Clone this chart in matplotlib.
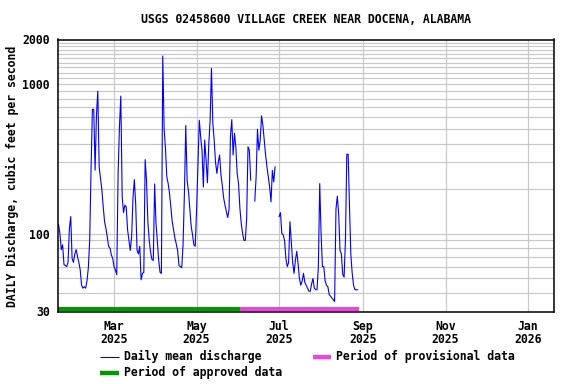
import numpy as np
import pandas as pd
import matplotlib
matplotlib.use("Agg")
import matplotlib.pyplot as plt
from matplotlib.lines import Line2D
from matplotlib.transforms import blended_transform_factory

nan = np.nan

title = "USGS 02458600 VILLAGE CREEK NEAR DOCENA, ALABAMA"
ylabel = "DAILY Discharge, cubic feet per second"

start_date = "2025-01-19"
discharge = [
    115, 100, 78, 84, 62, 61, 60, 64, 108, 130,
    68, 64, 73, 78, 70, 64, 57, 45, 43, 44,
    43, 48, 59, 90, 266, 680, 680, 266, 620, 900,
    280, 234, 196, 151, 120, 108, 95, 82, 80, 72,
    68, 60, 57, 53, 253, 520, 835, 178, 138, 155,
    151, 106, 90, 77, 95, 173, 230, 158, 77, 73,
    82, 49, 54, 55, 313, 227, 120, 90, 75, 67,
    66, 215, 117, 89, 66, 55, 54, 1550, 500, 373,
    240, 216, 186, 148, 120, 106, 93, 85, 77, 61,
    60, 59, 84, 185, 530, 228, 192, 145, 112, 98,
    84, 82, 145, 293, 575, 445, 362, 205, 424, 313,
    219, 396, 575, 1280, 548, 424, 300, 253, 300, 336,
    247, 210, 173, 155, 141, 128, 145, 445, 580, 336,
    470, 380, 253, 216, 148, 117, 100, 90, 90, 126,
    382, 362, 228, nan, nan, 165, 240, 500, 362, 424,
    615, 530, 424, 336, 280, 238, 205, 163, 265, 222,
    280, nan, nan, 130, 138, 100, 98, 90, 68, 60,
    64, 120, 88, 64, 54, 66, 76, 63, 50, 45,
    48, 54, 47, 45, 43, 41, 41, 46, 50, 43,
    42, 42, 60, 216, 100, 60, 60, 48, 45, 44,
    39, 38, 37, 36, 35, 146, 178, 135, 77, 73,
    53, 51, 90, 340, 340, 151, 72, 54, 45, 42,
    42, 42,
]

approved_period = ["2025-01-18 14:00", "2025-06-02"]
provisional_period = ["2025-06-02", "2025-08-28 16:00"]

x_limits = ["2025-01-18 14:00", "2026-01-20 03:00"]
x_tick_dates = ["2025-03-01", "2025-05-01", "2025-07-01", "2025-09-01", "2025-11-01", "2026-01-01"]
x_tick_labels = ["Mar\n2025", "May\n2025", "Jul\n2025", "Sep\n2025", "Nov\n2025", "Jan\n2026"]
y_ticks = [30, 100, 1000, 2000]
y_tick_labels = ["30", "100", "1000", "2000"]
y_grid = [40, 50, 60, 70, 80, 90, 100, 200, 300, 400, 500, 600, 700, 800, 900,
          1000, 1100, 1200, 1300, 1400, 1500, 1600, 1700, 1800, 1900]

legend_labels = ["Daily mean discharge", "Period of provisional data", "Period of approved data"]

FONT = "DejaVu Sans Mono"
FS = 8.3

dates = pd.date_range(start_date, periods=len(discharge), freq="D")

fig = plt.figure(figsize=(5.76, 3.84), dpi=100)
ax = fig.add_axes([58 / 576, 1 - 311.5 / 384, (554 - 58) / 576, (311.5 - 39.5) / 384])

ax.set_yscale("log")
ax.set_ylim(30, 2000)
ax.set_xlim(pd.Timestamp(x_limits[0]), pd.Timestamp(x_limits[1]))

for g in y_grid:
    ax.axhline(g, color="#c8c8c8", lw=0.85, zorder=0)
for d in x_tick_dates:
    ax.axvline(pd.Timestamp(d), color="#c8c8c8", lw=0.85, zorder=0)

ax.plot(dates, discharge, color="#0000ff", lw=0.8, zorder=3)

trans = blended_transform_factory(ax.transData, ax.transAxes)
ax.plot([pd.Timestamp(approved_period[0]), pd.Timestamp(approved_period[1])], [0.008, 0.008],
        color="#009900", lw=3, transform=trans, solid_capstyle="butt", zorder=4, clip_on=False)
ax.plot([pd.Timestamp(provisional_period[0]), pd.Timestamp(provisional_period[1])], [0.008, 0.008],
        color="#ee44dd", lw=3, transform=trans, solid_capstyle="butt", zorder=4, clip_on=False)

ax.yaxis.set_major_locator(matplotlib.ticker.FixedLocator(y_ticks))
ax.yaxis.set_minor_locator(matplotlib.ticker.NullLocator())
ax.set_yticklabels(y_tick_labels, fontfamily=FONT, fontweight="bold", fontsize=FS)
ax.set_xticks([pd.Timestamp(d) for d in x_tick_dates])
ax.set_xticklabels(x_tick_labels, fontfamily=FONT, fontweight="bold", fontsize=FS, linespacing=1.05)
ax.xaxis.set_minor_locator(matplotlib.ticker.NullLocator())
ax.tick_params(axis="both", length=0)
ax.tick_params(axis="y", pad=6)
ax.tick_params(axis="x", pad=6)

for s in ax.spines.values():
    s.set_linewidth(1.1)
    s.set_color("black")
    s.set_zorder(5)

fig.text(306 / 576, 1 - 19.5 / 384, title, ha="center", va="center",
         fontfamily=FONT, fontweight="bold", fontsize=FS)
fig.text(12 / 576, 1 - 176 / 384, ylabel, ha="center", va="center", rotation=90,
         fontfamily=FONT, fontweight="bold", fontsize=FS)

def leg_item(x0, x1, xt, y, color, lw, label):
    fy = 1 - y / 384
    fig.add_artist(Line2D([x0 / 576, x1 / 576], [fy, fy], color=color, lw=lw,
                          transform=fig.transFigure, solid_capstyle="butt"))
    fig.text(xt / 576, fy, label, ha="left", va="center",
             fontfamily=FONT, fontweight="bold", fontsize=FS)

leg_item(100, 118.5, 123.5, 356.5, "#0000ff", 0.8, legend_labels[0])
leg_item(312.5, 331, 336.5, 356.5, "#ee44dd", 3.2, legend_labels[1])
leg_item(100, 118.5, 123.5, 372.5, "#009900", 3.2, legend_labels[2])

fig.savefig("out.png", dpi=100)
